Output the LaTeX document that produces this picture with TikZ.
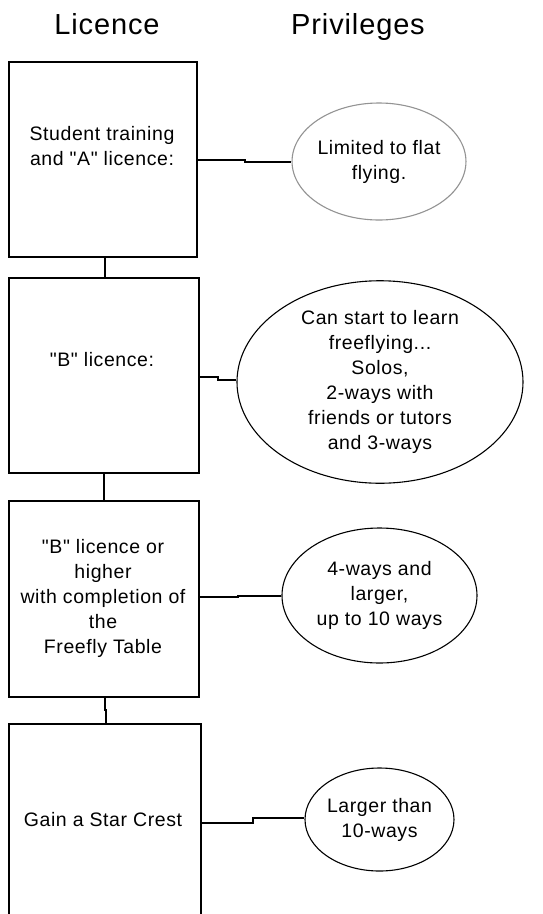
\documentclass[tikz,border=0pt]{standalone}
\usepackage{fontspec}
\setmainfont{Liberation Sans}[LetterSpace=3,Ligatures=TeXOff]
\usetikzlibrary{shapes.geometric}
\begin{document}
\begin{tikzpicture}[x=1pt,y=-1pt,
  licbox/.style={draw=black,line width=1.6pt,inner sep=0pt,rectangle},
  openbox/.style={inner sep=0pt,rectangle},
  priv/.style={draw=black,line width=1.1pt,ellipse,inner sep=0pt,align=center,font=\fontsize{19.5}{25}\selectfont},
  privgrey/.style={priv,draw=gray!85},
  txt/.style={align=center,font=\fontsize{19.5}{25}\selectfont,inner sep=0pt},
  title/.style={font=\fontsize{29}{32}\selectfont,inner sep=0pt,anchor=base},
  conn/.style={draw=black,line width=1.4pt}]
\useasboundingbox (0,0) rectangle (543,914);
\fill[white] (0,0) rectangle (543,914);

% titles
\node[title] (hl) at (107,34) {Licence};
\node[title] (hp) at (358,34) {Privileges};

% licence boxes
\node[licbox,minimum width=188pt,minimum height=195pt] (b1) at (103,159.5) {};
\node[licbox,minimum width=190pt,minimum height=195pt] (b2) at (104,375.5) {};
\node[licbox,minimum width=190pt,minimum height=196pt] (b3) at (104,599) {};
\node[openbox,minimum width=192pt,minimum height=206pt] (b4) at (105,827) {};
\draw[line width=1.6pt] (b4.south west) -- (b4.north west) -- (b4.north east) -- (b4.south east);

% box texts
\node[txt] (t1) at (102,146) {Student training\\and "A" licence:};
\node[txt] (t2) at (102,360) {"B" licence:};
\node[txt] (t3) at (103,598) {"B" licence or\\higher\\with completion of\\the\\Freefly Table};
\node[txt] (t4) at (103,820) {Gain a Star Crest};

% privilege ellipses
\node[privgrey,minimum width=168pt,minimum height=117pt] (e1) at (379,161.5) {Limited to flat\\flying.};
\node[priv,minimum width=286pt,minimum height=200pt] (e2) at (380,382) {Can start to learn\\freeflying...\\Solos,\\2-ways with\\friends or tutors\\and 3-ways};
\node[priv,minimum width=195pt,minimum height=135pt] (e3) at (379.5,595.5) {4-ways and\\larger,\\up to 10 ways};
\node[priv,minimum width=149pt,minimum height=103pt] (e4) at (379.5,819.5) {Larger than\\10-ways};

% jog coordinates
\coordinate (c1a) at (245,160); \coordinate (c1b) at (245,162);
\coordinate (c2a) at (218,377); \coordinate (c2b) at (218,380);
\coordinate (c3a) at (238,597); \coordinate (c3b) at (238,596);
\coordinate (c4a) at (253,823); \coordinate (c4b) at (253,818);
\coordinate (v1) at (105,0); \coordinate (v2) at (104,0);
\coordinate (v3a) at (105,710); \coordinate (v3b) at (106,710);

% horizontal connectors
\draw[conn] (b1.east |- c1a) -- (c1a) -- (c1b) -- (e1.west |- c1b);
\draw[conn] (b2.east |- c2a) -- (c2a) -- (c2b) -- (e2.west |- c2b);
\draw[conn] (b3.east |- c3a) -- (c3a) -- (c3b) -- (e3.west |- c3b);
\draw[conn] (b4.east |- c4a) -- (c4a) -- (c4b) -- (e4.west |- c4b);

% vertical connectors
\draw[conn] (b1.south -| v1) -- (b2.north -| v1);
\draw[conn] (b2.south -| v2) -- (b3.north -| v2);
\draw[conn] (b3.south -| v3a) -- (v3a) -- (v3b) -- (b4.north -| v3b);
\end{tikzpicture}
\end{document}
